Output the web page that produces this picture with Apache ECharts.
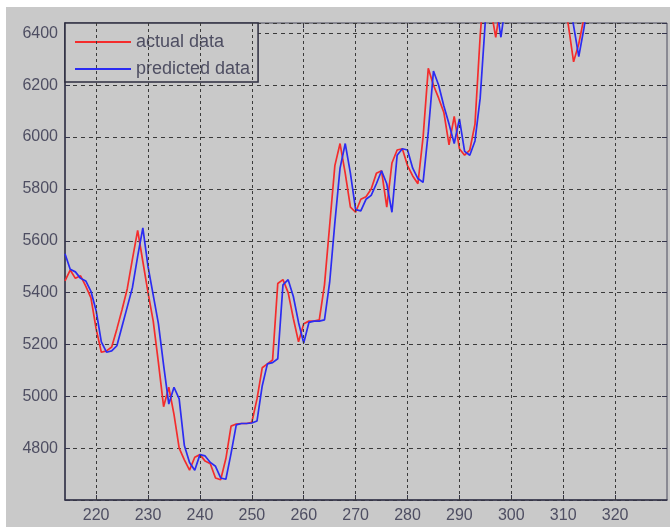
<!DOCTYPE html>
<html><head><meta charset="utf-8">
<script src="https://cdn.jsdelivr.net/npm/echarts@6/dist/echarts.min.js"></script>
<style>
html,body{margin:0;padding:0;background:#ffffff;width:670px;height:527px;overflow:hidden}
#main{position:absolute;left:6px;top:7px;width:664px;height:520px}
</style>
</head><body><div id="main"></div>
<script>
const xValues = [214,215,216,217,218,219,220,221,222,223,224,225,226,227,228,229,230,231,232,233,234,235,236,237,238,239,240,241,242,243,244,245,246,247,248,249,250,251,252,253,254,255,256,257,258,259,260,261,262,263,264,265,266,267,268,269,270,271,272,273,274,275,276,277,278,279,280,281,282,283,284,285,286,287,288,289,290,291,292,293,294,295,296,297,298,299,300,301,302,303,304,305,306,307,308,309,310,311,312,313,314,315,316,317,318,319,320,321,322,323,324,325,326,327,328,329,330];
const actualData = [5445,5487,5455,5465,5425,5380,5260,5170,5175,5190,5260,5335,5415,5530,5640,5520,5400,5290,5130,4960,5035,4930,4800,4755,4715,4765,4775,4750,4740,4685,4678,4760,4885,4893,4895,4895,4900,4990,5110,5125,5140,5435,5450,5400,5300,5210,5280,5290,5290,5295,5430,5660,5890,5975,5860,5730,5710,5760,5770,5800,5860,5870,5730,5900,5950,5955,5890,5850,5820,6000,6265,6200,6150,6095,5970,6080,5955,5930,5950,6050,6390,6650,6500,6385,6520,6640,6720,6780,6750,6800,6840,6780,6720,6680,6640,6600,6560,6430,6290,6360,6460,6560,6620,6680,6700,6740,6720,6760,6800,6780,6820,6860,6840,6880,6900,6920,6940];
const predictedData = [5550,5490,5480,5455,5445,5405,5330,5210,5170,5175,5195,5270,5345,5420,5540,5650,5500,5390,5280,5120,4970,5035,4990,4810,4745,4715,4775,4770,4745,4730,4685,4680,4780,4890,4895,4895,4897,4905,5040,5125,5130,5145,5430,5450,5385,5285,5205,5285,5290,5290,5295,5440,5670,5880,5975,5860,5720,5715,5760,5775,5820,5870,5820,5710,5930,5955,5950,5880,5840,5825,6020,6255,6200,6120,6050,5975,6070,5945,5930,5985,6150,6450,6650,6520,6385,6530,6650,6730,6780,6760,6800,6830,6770,6720,6680,6640,6600,6550,6430,6310,6420,6550,6600,6650,6700,6720,6750,6740,6780,6810,6790,6830,6860,6850,6880,6900,6920];
const xTickValues = [220,230,240,250,260,270,280,290,300,310,320];
const yTickValues = [4800,5000,5200,5400,5600,5800,6000,6200,6400];
const seriesNames = ['actual data','predicted data'];

const BG = '#c9c9c9';
const FONT = 'Liberation Sans, Arial, sans-serif';
const LABEL_COLOR = '#4e4e62';
const GRID_COLOR = '#3a3a3a';
const RED = '#f42c2c';
const BLUE = '#2b2bf2';

const chart = echarts.init(document.getElementById('main'), null, {renderer:'canvas'});
const pair = arr => xValues.map((x,i)=>[x, arr[i]]);

chart.setOption({
  backgroundColor: BG,
  animation: false,
  grid: {left:59, top:16, width:602, height:477, show:true, borderColor:'#4a4a5c', borderWidth:1, backgroundColor:BG},
  legend: {
    data: seriesNames.map(n => ({name:n, icon:'rect'})), orient:'vertical', left:59, top:16,
    itemWidth:56, itemHeight:2, itemGap:9,
    padding:[10,8,4,10],
    backgroundColor:BG, borderColor:'#2e2e40', borderWidth:1.5,
    textStyle:{fontFamily:FONT, fontSize:18, color:LABEL_COLOR, lineHeight:18}
  },
  xAxis: [{
    type:'value', min:214, max:330, position:'bottom',
    axisLine:{show:true, onZero:false, lineStyle:{color:'#34344a', width:1.5}},
    axisTick:{show:true, inside:true, length:5, customValues:xTickValues, lineStyle:{color:'#34344a'}},
    axisLabel:{customValues:xTickValues, fontFamily:FONT, fontSize:16, color:LABEL_COLOR, margin:8},
    splitLine:{show:false}
  },{
    type:'value', min:214, max:330, position:'top',
    axisLine:{show:false},
    axisTick:{show:true, inside:true, length:5, customValues:xTickValues, lineStyle:{color:'#34344a'}},
    axisLabel:{show:false}, splitLine:{show:false}
  }],
  yAxis: [{
    type:'value', min:4600, max:6440, interval:200,
    axisLine:{show:true, onZero:false, lineStyle:{color:'#34344a', width:1.5}},
    axisTick:{show:true, inside:true, length:5, lineStyle:{color:'#34344a'}},
    axisLabel:{fontFamily:FONT, fontSize:16, color:LABEL_COLOR, margin:7,
      formatter: v => yTickValues.indexOf(v) >= 0 ? String(v) : ''},
    splitLine:{show:true, lineStyle:{color:GRID_COLOR, width:1, type:[4,4]}}
  },{
    type:'value', min:4600, max:6440, interval:200, position:'right',
    axisLine:{show:false},
    axisTick:{show:true, inside:true, length:5, lineStyle:{color:'#34344a'}},
    axisLabel:{show:false}, splitLine:{show:false}
  }],
  series: [
    {
      name:'gridX', type:'line', data:[], z:1, silent:true,
      markLine:{silent:true, symbol:['none','none'], label:{show:false},
        lineStyle:{color:GRID_COLOR, width:1, type:[3,3]},
        data: xTickValues.map(v => ({xAxis:v}))}
    },
    {
      name:seriesNames[0], type:'line', data:pair(actualData), symbol:'none', z:3,
      lineStyle:{color:RED, width:1.7}, itemStyle:{color:RED}, clip:true
    },
    {
      name:seriesNames[1], type:'line', data:pair(predictedData), symbol:'none', z:4,
      lineStyle:{color:BLUE, width:1.7}, itemStyle:{color:BLUE}, clip:true
    }
  ]
});
</script>
</body></html>
